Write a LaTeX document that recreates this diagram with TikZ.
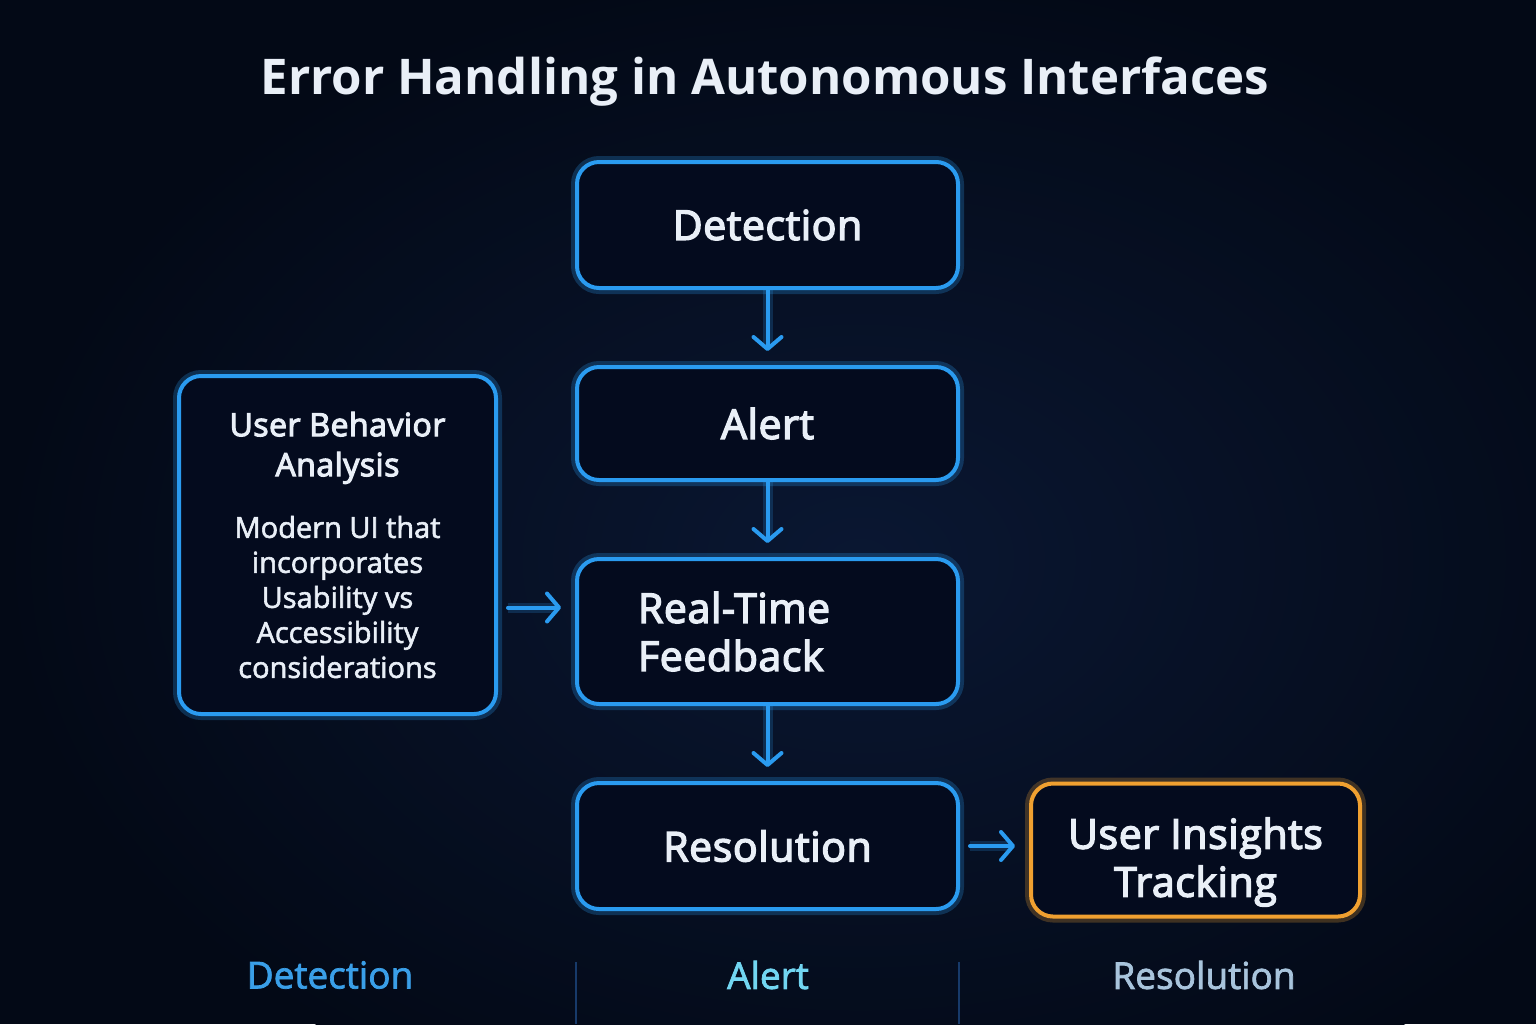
\documentclass[tikz,border=0pt]{standalone}
\usepackage{fontspec}
\setmainfont{Open Sans}
\newfontfamily\semifont[FakeBold=3.5,LetterSpace=1.5]{Open Sans}
\newfontfamily\midfont[FakeBold=2]{Open Sans}
\usetikzlibrary{positioning,calc,arrows.meta}

\definecolor{bgnavy}{HTML}{030916}
\definecolor{bgglow}{HTML}{0A1732}
\definecolor{boxblue}{HTML}{2A9BF0}
\definecolor{boxfill}{HTML}{040B1E}
\definecolor{insorange}{HTML}{F0A030}
\definecolor{labelwhite}{HTML}{E9EFF7}
\definecolor{detblue}{HTML}{3A9FE8}
\definecolor{alertcyan}{HTML}{72D6F2}
\definecolor{resgrey}{HTML}{A8C4DC}
\definecolor{divline}{HTML}{173A6A}

\begin{document}
\begin{tikzpicture}[x=0.5pt,y=-0.5pt,
  box/.style={draw=#1, line width=2pt, rounded corners=11pt, fill=boxfill, text=labelwhite,
    minimum width=190.5pt, font=\semifont\fontsize{20.5}{24}\selectfont,
    preaction={draw=#1, line width=6pt, draw opacity=0.25}},
  box/.default=boxblue,
  flow/.style={draw=boxblue, line width=2pt, line cap=round,
    -{Straight Barb[length=6pt,width=14pt,round]}, shorten >=7pt,
    preaction={draw=boxblue, line width=5pt, draw opacity=0.2, -, shorten >=9pt}},
  phase/.style={font=\midfont\fontsize{18.5}{22}\selectfont},
  divider/.style={draw=divline, line width=1.2pt}]
% background
\useasboundingbox (0,0) rectangle (1536,1024);
\begin{scope}
\clip (0,0) rectangle (1536,1024);
\fill[bgnavy] (0,0) rectangle (1536,1024);
\shade[inner color=bgglow, outer color=bgnavy] (860,560) ellipse [x radius=430pt, y radius=300pt];
\end{scope}
% title
\node[text=labelwhite, font=\bfseries\fontsize{24.6}{30}\selectfont] (title) at (765,82) {Error Handling in Autonomous Interfaces};
% main column
\node[box, minimum height=63pt] (det) at (767.5,225) {Detection};
\node[box, minimum height=56.5pt, below=37.5pt of det] (alert) {Alert};
\node[box, minimum height=72.5pt, below=37.5pt of alert, align=left, text width=129.5pt, inner xsep=30.5pt] (rtf) {Real-Time\\Feedback};
\node[box, minimum height=63pt, below=37.5pt of rtf] (res) {Resolution};
% side boxes
\node[box=insorange, minimum width=164.5pt, minimum height=66.5pt, right=34.5pt of res, yshift=-2pt,
  label={[yshift=-6pt, align=center, text=labelwhite, font=\semifont\fontsize{20.5}{24}\selectfont]center:User Insights\\Tracking}] (uit) {};
\node[box, minimum width=158.5pt, minimum height=169pt, align=center, font=\semifont\fontsize{16}{20}\selectfont] (uba) at (337.5,545)
  {User Behavior\\Analysis\\[15pt]\parbox{150pt}{\centering\midfont\fontsize{14.5}{17.5}\selectfont
   Modern UI that\\incorporates\\Usability vs\\Accessibility\\considerations}};
% arrows
\draw[flow] (det) -- (alert);
\draw[flow] (alert) -- (rtf);
\draw[flow] (rtf) -- (res);
\draw[flow, shorten <=5pt] ([yshift=12pt]uba.east |- rtf.west) -- ([yshift=12pt]rtf.west);
\draw[flow, shorten <=5pt] (res.east) -- (uit.west |- res.east);
% phase labels
\node[phase, text=detblue] (pdet) at (330,975) {Detection};
\node[phase, text=alertcyan] (palert) at (768,975) {Alert};
\node[phase, text=resgrey] (pres) at (1204,975) {Resolution};
\draw[divider] (576,962) -- (576,1024);
\draw[divider] (959,962) -- (959,1024);
\end{tikzpicture}
\end{document}
